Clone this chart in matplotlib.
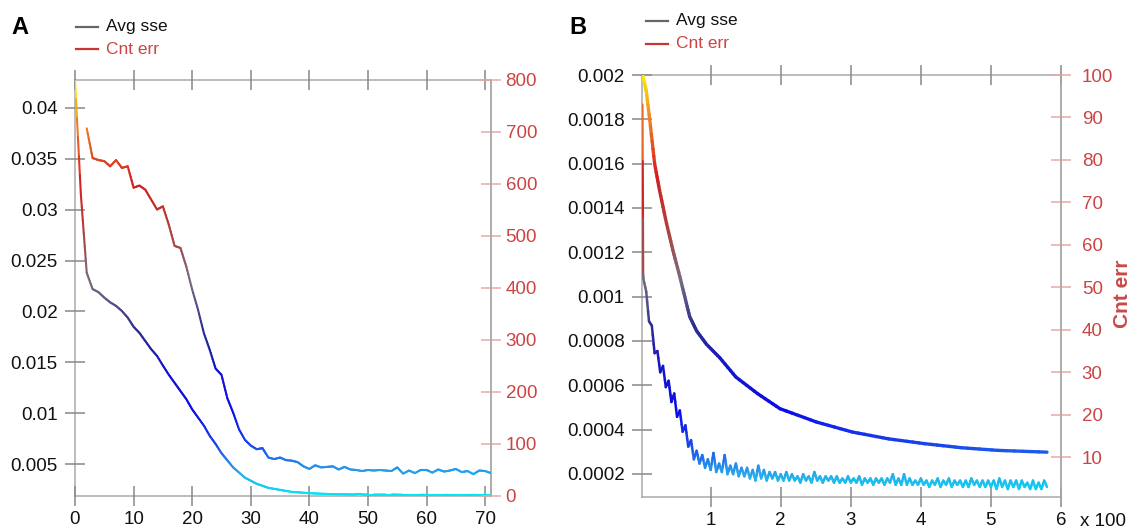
import numpy as np
import matplotlib
matplotlib.use("Agg")
import matplotlib.pyplot as plt
from matplotlib.collections import LineCollection
from matplotlib.colors import LinearSegmentedColormap, Normalize
from matplotlib.lines import Line2D

plt.rcParams['font.family'] = ['Liberation Sans', 'DejaVu Sans']

# ---------------- Panel A data ----------------
a_iter = list(range(0, 72))
a_avg_sse = [0.0427, 0.0315, 0.0238, 0.0222, 0.0219, 0.02136, 0.0209, 0.02055, 0.02005, 0.0194,
             0.0185, 0.0179, 0.0171, 0.0163, 0.01564, 0.0147, 0.0138, 0.0130, 0.0122, 0.0114,
             0.0104, 0.0096, 0.0088, 0.0078, 0.0070, 0.0061, 0.0054, 0.0047, 0.0042, 0.0037,
             0.0034, 0.0031, 0.0029, 0.0027, 0.0026, 0.0025, 0.0024, 0.0023, 0.00226, 0.00222,
             0.00218, 0.00215, 0.00212, 0.0021, 0.00209, 0.00208, 0.00207, 0.00206, 0.00205, 0.00205,
             0.00204, 0.00204, 0.00203, 0.00204, 0.00204, 0.00203, 0.00202, 0.00202, 0.00202, 0.00202,
             0.00201, 0.00201, 0.00201, 0.00201, 0.002, 0.002, 0.002, 0.002, 0.00201, 0.002,
             0.002, 0.00199]
a_cnt_iter = list(range(2, 72))
a_cnt_err = [707, 650, 646, 644, 634, 646, 631, 634, 593, 597,
             589, 570, 551, 557, 522, 481, 477, 441, 397, 358,
             313, 281, 245, 233, 188, 160, 128, 108, 97, 90,
             92, 74, 71, 74, 69, 68, 65, 57, 52, 59,
             55, 56, 57, 51, 56, 51, 50, 48, 50, 49,
             50, 49, 48, 55, 43, 49, 44, 50, 50, 45,
             51, 47, 49, 52, 46, 48, 42, 49, 48, 44]
a_xticks = [0, 10, 20, 30, 40, 50, 60, 70]
a_left_ticks = [0.005, 0.01, 0.015, 0.02, 0.025, 0.03, 0.035, 0.04]
a_left_labels = ['0.005', '0.01', '0.015', '0.02', '0.025', '0.03', '0.035', '0.04']
a_right_ticks = [0, 100, 200, 300, 400, 500, 600, 700, 800]

# ---------------- Panel B data (x in hundreds of iterations) ----------------
b_sse_x = [0.03, 0.08, 0.13, 0.2, 0.27, 0.37, 0.46, 0.56, 0.63, 0.7, 0.8, 0.94, 1.13,
           1.36, 1.67, 1.99, 2.51, 3.02, 3.54, 4.06, 4.58, 5.1, 5.8]
b_avg_sse = [0.00200, 0.00193, 0.00180, 0.00160, 0.00148, 0.00133, 0.00121, 0.00109, 0.00100,
             0.00091, 0.000845, 0.000785, 0.000724, 0.000637, 0.000562, 0.000494, 0.000434,
             0.000389, 0.000358, 0.000336, 0.000318, 0.000306, 0.000298]
b_cnt_x = [0.025, 0.035] + list(np.arange(4, 584, 4) / 100.0)
b_cnt_err = [93, 53,
             52, 49, 42, 41, 34.5, 35, 30, 31.5, 26.5, 28,
             23, 25, 19.5, 21, 16, 17.5, 12.5, 14, 9.5, 11.5,
             8.5, 10.5, 7.5, 9.5, 7, 11, 6.5, 8.5, 6.5, 10.5,
             6, 8, 6, 8.5, 5.5, 7.5, 5.5, 7.5, 5, 7,
             4.5, 8, 5, 7, 4.5, 6.5, 5, 6.5, 4.5, 6,
             4.5, 6.5, 4.5, 6, 4.5, 5.5, 4, 6, 4.5, 5.5,
             4, 6.5, 4.5, 5.5, 4, 5.5, 4.5, 5.5, 4, 5.5,
             4, 5, 4, 5.5, 4, 5, 4, 5.5, 3.5, 5,
             4, 5, 3.5, 5, 4, 5, 3.5, 5, 4, 6,
             3.5, 5, 3.5, 6, 3.5, 5, 3.5, 4.5, 3.5, 5,
             3.5, 4.5, 3, 4.5, 3.5, 5, 3, 4.5, 3.5, 5,
             3, 4.5, 3.5, 4.5, 3, 4.5, 3, 5, 3.5, 4.5,
             3, 4.5, 3, 4.5, 3, 4.5, 2.5, 5, 3, 4.5,
             2.5, 4.5, 3, 4.5, 2.5, 4.5, 3, 4, 2.5, 4.5,
             2.5, 4, 2.5, 4.5, 3]
b_xticks = [1, 2, 3, 4, 5, 6]
b_left_ticks = [0.0002, 0.0004, 0.0006, 0.0008, 0.001, 0.0012, 0.0014, 0.0016, 0.0018, 0.002]
b_left_labels = ['0.0002', '0.0004', '0.0006', '0.0008', '0.001', '0.0012', '0.0014',
                 '0.0016', '0.0018', '0.002']
b_right_ticks = [10, 20, 30, 40, 50, 60, 70, 80, 90, 100]

# ---------------- styling ----------------
cmap = LinearSegmentedColormap.from_list('errmap', [
    (0.00, (0/255, 230/255, 245/255)),
    (0.05, (40/255, 170/255, 235/255)),
    (0.12, (25/255, 70/255, 235/255)),
    (0.20, (10/255, 12/255, 235/255)),
    (0.30, (20/255, 20/255, 205/255)),
    (0.40, (45/255, 45/255, 145/255)),
    (0.51, (118/255, 108/255, 128/255)),
    (0.63, (175/255, 65/255, 60/255)),
    (0.76, (215/255, 30/255, 30/255)),
    (0.90, (240/255, 135/255, 40/255)),
    (1.00, (255/255, 240/255, 0/255)),
])

SPINE = '#aaaaaa'
TICK = '#888888'
RTICK = '#e8a8a8'
RED = '#cc4444'


def grad_line(ax, x, y, lo, hi, lw, sub=6):
    x = np.asarray(x, float)
    y = np.asarray(y, float)
    segs, vals = [], []
    for i in range(len(x) - 1):
        t = np.linspace(0, 1, sub + 1)
        xs = x[i] + (x[i + 1] - x[i]) * t
        ys = y[i] + (y[i + 1] - y[i]) * t
        for k in range(sub):
            segs.append([(xs[k], ys[k]), (xs[k + 1], ys[k + 1])])
            vals.append(0.5 * (ys[k] + ys[k + 1]))
    cols = cmap(np.clip(Normalize(lo, hi)(np.array(vals)), 0, 1))
    lc = LineCollection(segs, colors=cols, linewidths=lw, capstyle='round',
                        joinstyle='round', zorder=3)
    ax.add_collection(lc)


def style(ax, ax2, rpad):
    for sp in ax.spines.values():
        sp.set_color(SPINE)
        sp.set_linewidth(1.1)
        sp.set_zorder(1)
    for name, sp in ax2.spines.items():
        if name == 'right':
            sp.set_color(SPINE)
            sp.set_linewidth(1.1)
        else:
            sp.set_visible(False)
    ax.tick_params(axis='both', which='major', direction='inout', length=14, width=1.1,
                   color=TICK, labelsize=13.5, labelcolor='#111111', top=True, labeltop=False)
    ax.tick_params(axis='y', pad=5.5)
    ax.tick_params(axis='x', pad=4)
    ax2.tick_params(axis='y', direction='inout', length=14, width=1.1, color=RTICK,
                    labelcolor=RED, labelsize=13.5, pad=rpad)


fig = plt.figure(figsize=(11.32, 5.30), dpi=100)

# ---------------- Panel A ----------------
axA = fig.add_axes([75 / 1132, 1 - 496 / 530, 416 / 1132, 416 / 530])
axA2 = axA.twinx()
a_lo, a_hi = 0.0019, 0.04271
axA.set_xlim(0, 71)
axA.set_ylim(a_lo, a_hi)
axA2.set_ylim(0, 800)
grad_line(axA, a_iter, a_avg_sse, a_lo, a_hi, 1.5)
grad_line(axA2, a_cnt_iter, a_cnt_err, 0, 800, 1.5)
axA.set_xticks(a_xticks)
axA.set_xticklabels([str(v) for v in a_xticks])
axA.set_yticks(a_left_ticks)
axA.set_yticklabels(a_left_labels)
axA2.set_yticks(a_right_ticks)
axA2.set_yticklabels([str(v) for v in a_right_ticks])
style(axA, axA2, 3.5)
for t, v in zip(axA2.yaxis.get_major_ticks(), a_right_ticks):
    if v in (100, 200):
        t.tick2line.set_color('#b85a5a')

# ---------------- Panel B ----------------
axB = fig.add_axes([642 / 1132, 1 - 496.7 / 530, 419 / 1132, 421.7 / 530])
axB2 = axB.twinx()
b_lo, b_hi = 0.000097, 0.002
axB.set_xlim(0.02, 6)
axB.set_ylim(b_lo, b_hi)
axB2.set_ylim(0.7, 100)
grad_line(axB2, b_cnt_x, b_cnt_err, 0.7, 100, 1.8, sub=3)
grad_line(axB, b_sse_x, b_avg_sse, b_lo, b_hi, 2.4)
axB.set_xticks(b_xticks)
axB.set_xticklabels([str(v) for v in b_xticks])
axB.set_yticks(b_left_ticks)
axB.set_yticklabels(b_left_labels)
axB2.set_yticks(b_right_ticks)
axB2.set_yticklabels([str(v) for v in b_right_ticks])
style(axB, axB2, 8)
for t, v in zip(axB2.yaxis.get_major_ticks(), b_right_ticks):
    if v == 60:
        t.tick2line.set_color('#b85a5a')

fig.text(1123 / 1132, 1 - 294 / 530, 'Cnt err', color='#c84848', fontsize=15,
         fontweight='bold', rotation=90, ha='center', va='center')
fig.text(1080 / 1132, 1 - 521 / 530, 'x 100', fontsize=13.5, color='#111111',
         ha='left', va='center')

# ---------------- panel letters and legends ----------------
fig.text(11 / 1132, 1 - 28 / 530, 'A', fontsize=17, fontweight='bold', ha='left', va='center')
fig.text(569 / 1132, 1 - 28 / 530, 'B', fontsize=17, fontweight='bold', ha='left', va='center')


def legend(x0, y1, y2):
    for yy, col, lab, tcol in ((y1, '#666666', 'Avg sse', '#111111'),
                               (y2, '#cc3333', 'Cnt err', RED)):
        fig.add_artist(Line2D([x0 / 1132, (x0 + 22) / 1132], [1 - yy / 530, 1 - yy / 530],
                              color=col, lw=1.6, transform=fig.transFigure))
        fig.text((x0 + 30) / 1132, 1 - yy / 530, lab, fontsize=12.5, color=tcol,
                 ha='left', va='center')


legend(76, 27, 49)
legend(646, 21, 44)

fig.savefig('out.png', dpi=100)
